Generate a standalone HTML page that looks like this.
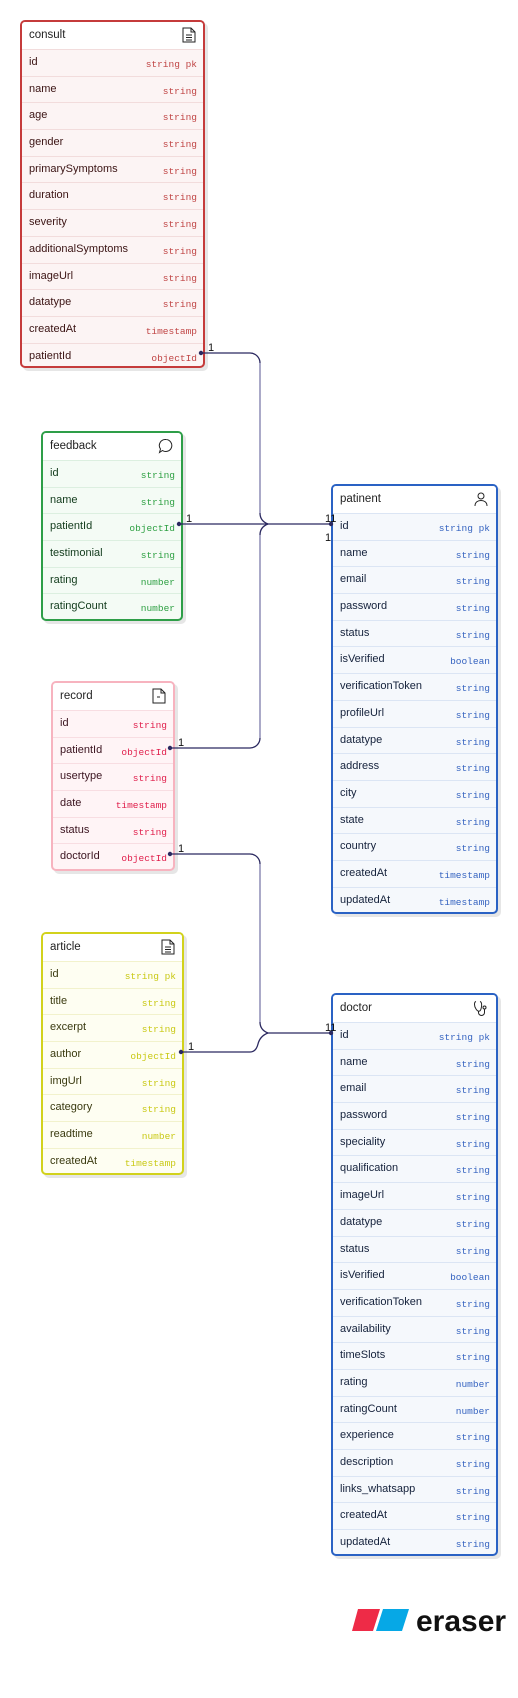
<!DOCTYPE html>
<html><head><meta charset="utf-8"><style>
body{margin:0;width:518px;height:1698px;background:#fff;position:relative;overflow:hidden;font-family:"Liberation Sans",sans-serif}
.b{position:absolute;border:2px solid;border-radius:5px;box-sizing:border-box;box-shadow:3px 3px 0 #e6e6e6;overflow:hidden}
.h{height:27px;background:#fff;position:relative;font-size:11.5px;color:#222;line-height:27px;padding-left:7px}
.h svg{position:absolute;right:7px;top:5px}
.r{height:26.7px;border-top:1px solid;box-sizing:border-box;position:relative;font-size:11px;line-height:24px;padding-left:7px}
.r span{position:absolute;right:6px;top:3px;font-family:"Liberation Mono",monospace;font-size:9.5px}
.red{border-color:#c53b3b;background:#fcf4f4}.red .r{border-color:#f2dcdc;color:#3b1414}.red span{color:#c04545}
.grn{border-color:#2e9e48;background:#f4fbf5}.grn .r{border-color:#dcefe0;color:#123b1c}.grn span{color:#2ea043}
.pnk{border-color:#f7b3bf;background:#fff4f6}.pnk .r{border-color:#f8dde2;color:#3b1420}.pnk span{color:#e01e4b}
.yel{border-color:#d2d21c;background:#fefef2}.yel .r{border-color:#f2f2cc;color:#3a3a10}.yel span{color:#c9c914}
.blu{border-color:#2a62c4;background:#f5f8fc}.blu .r{border-color:#dbe5f4;color:#14213b}.blu span{color:#3563c0}
.lbl{position:absolute;font-size:11px;color:#111}
</style></head><body>

<div class="b red" style="left:20px;top:20px;width:185px;height:348px">
<div class="h">consult<svg width="14" height="16" viewBox="0 0 14 16"><path d="M1 1h8l4 4v10H1z M9 1v4h4" fill="none" stroke="#222"/><path d="M4 8h6M4 10.5h6M4 13h6" stroke="#222"/></svg></div>
<div class="r">id<span>string pk</span></div>
<div class="r">name<span>string</span></div>
<div class="r">age<span>string</span></div>
<div class="r">gender<span>string</span></div>
<div class="r">primarySymptoms<span>string</span></div>
<div class="r">duration<span>string</span></div>
<div class="r">severity<span>string</span></div>
<div class="r">additionalSymptoms<span>string</span></div>
<div class="r">imageUrl<span>string</span></div>
<div class="r">datatype<span>string</span></div>
<div class="r">createdAt<span>timestamp</span></div>
<div class="r">patientId<span>objectId</span></div>
</div>

<div class="b grn" style="left:41px;top:431px;width:142px;height:190px">
<div class="h">feedback<svg width="16" height="16" viewBox="0 0 16 16"><path d="M8 1.5a6 6 0 1 1-3.5 11L1.5 14.5l1-3.5A6 6 0 0 1 8 1.5z" fill="none" stroke="#222"/></svg></div>
<div class="r">id<span>string</span></div>
<div class="r">name<span>string</span></div>
<div class="r">patientId<span>objectId</span></div>
<div class="r">testimonial<span>string</span></div>
<div class="r">rating<span>number</span></div>
<div class="r">ratingCount<span>number</span></div>
</div>

<div class="b pnk" style="left:51px;top:681px;width:124px;height:190px">
<div class="h">record<svg width="14" height="16" viewBox="0 0 14 16"><path d="M1 1h8l4 4v10H1z M9 1v4h4" fill="none" stroke="#222"/><path d="M5 9h3" stroke="#222"/></svg></div>
<div class="r">id<span>string</span></div>
<div class="r">patientId<span>objectId</span></div>
<div class="r">usertype<span>string</span></div>
<div class="r">date<span>timestamp</span></div>
<div class="r">status<span>string</span></div>
<div class="r">doctorId<span>objectId</span></div>
</div>

<div class="b yel" style="left:41px;top:932px;width:143px;height:243px">
<div class="h">article<svg width="14" height="16" viewBox="0 0 14 16"><path d="M1 1h8l4 4v10H1z M9 1v4h4" fill="none" stroke="#222"/><path d="M4 8h6M4 10.5h6M4 13h6" stroke="#222"/></svg></div>
<div class="r">id<span>string pk</span></div>
<div class="r">title<span>string</span></div>
<div class="r">excerpt<span>string</span></div>
<div class="r">author<span>objectId</span></div>
<div class="r">imgUrl<span>string</span></div>
<div class="r">category<span>string</span></div>
<div class="r">readtime<span>number</span></div>
<div class="r">createdAt<span>timestamp</span></div>
</div>

<div class="b blu" style="left:331px;top:484px;width:167px;height:430px">
<div class="h">patinent<svg width="16" height="16" viewBox="0 0 16 16"><circle cx="8" cy="5" r="3" fill="none" stroke="#222"/><path d="M2 15c0-4 3-5.5 6-5.5s6 1.5 6 5.5" fill="none" stroke="#222"/></svg></div>
<div class="r">id<span>string pk</span></div>
<div class="r">name<span>string</span></div>
<div class="r">email<span>string</span></div>
<div class="r">password<span>string</span></div>
<div class="r">status<span>string</span></div>
<div class="r">isVerified<span>boolean</span></div>
<div class="r">verificationToken<span>string</span></div>
<div class="r">profileUrl<span>string</span></div>
<div class="r">datatype<span>string</span></div>
<div class="r">address<span>string</span></div>
<div class="r">city<span>string</span></div>
<div class="r">state<span>string</span></div>
<div class="r">country<span>string</span></div>
<div class="r">createdAt<span>timestamp</span></div>
<div class="r">updatedAt<span>timestamp</span></div>
</div>

<div class="b blu" style="left:331px;top:993px;width:167px;height:563px">
<div class="h">doctor<svg width="16" height="16" viewBox="0 0 16 16"><path d="M3 1.5C1 2 1 6 3 9s4 3 5 0 1-7-1-7.5M5.5 11v1.5a3 3 0 0 0 6 0V9" fill="none" stroke="#222"/><circle cx="11.5" cy="7.5" r="1.5" fill="none" stroke="#222"/></svg></div>
<div class="r">id<span>string pk</span></div>
<div class="r">name<span>string</span></div>
<div class="r">email<span>string</span></div>
<div class="r">password<span>string</span></div>
<div class="r">speciality<span>string</span></div>
<div class="r">qualification<span>string</span></div>
<div class="r">imageUrl<span>string</span></div>
<div class="r">datatype<span>string</span></div>
<div class="r">status<span>string</span></div>
<div class="r">isVerified<span>boolean</span></div>
<div class="r">verificationToken<span>string</span></div>
<div class="r">availability<span>string</span></div>
<div class="r">timeSlots<span>string</span></div>
<div class="r">rating<span>number</span></div>
<div class="r">ratingCount<span>number</span></div>
<div class="r">experience<span>string</span></div>
<div class="r">description<span>string</span></div>
<div class="r">links_whatsapp<span>string</span></div>
<div class="r">createdAt<span>string</span></div>
<div class="r">updatedAt<span>string</span></div>
</div>

<svg style="position:absolute;left:0;top:0" width="518" height="1698">
<g fill="none" stroke-width="1.3">
<path d="M201 353H250a10 10 0 0 1 10 10V513" stroke="#2b2960"/>
<path d="M260 363V513" stroke="#a09ec4"/>
<path d="M260 513q0 8 8 11" stroke="#2b2960"/>
<path d="M179 524H331" stroke="#2b2960"/>
<path d="M170 748H250a10 10 0 0 0 10-10V535q0-8 8-11" stroke="#2b2960"/>
<path d="M260 738V535" stroke="#a09ec4"/>
<path d="M170 854H250a10 10 0 0 1 10 10V1022q0 8 8 11H331" stroke="#2b2960"/>
<path d="M260 864V1022" stroke="#a09ec4"/>
<path d="M181 1052H250q6 0 8-8t10-11" stroke="#2b2960"/>
</g>
<g fill="#2b2960">
<circle cx="201" cy="353" r="2.2"/><circle cx="179" cy="524" r="2.2"/><circle cx="331" cy="524" r="2.2"/>
<circle cx="170" cy="748" r="2.2"/><circle cx="170" cy="854" r="2.2"/><circle cx="181" cy="1052" r="2.2"/><circle cx="331" cy="1033" r="2.2"/>
</g>
<g font-family="Liberation Sans,sans-serif" font-size="11" fill="#111">
<text x="208" y="351">1</text><text x="186" y="522">1</text><text x="325" y="522">11</text><text x="325" y="541">1</text>
<text x="178" y="746">1</text><text x="178" y="852">1</text><text x="188" y="1050">1</text><text x="325" y="1031">11</text>
</g>
<path d="M358 1609H380L373 1631H352z" fill="#ee2b47"/>
<path d="M383 1609H409L402 1631H376z" fill="#06a8e6"/>
<text x="416" y="1631" font-family="Liberation Sans,sans-serif" font-weight="bold" font-size="30" fill="#111">eraser</text>
</svg>
</body></html>
